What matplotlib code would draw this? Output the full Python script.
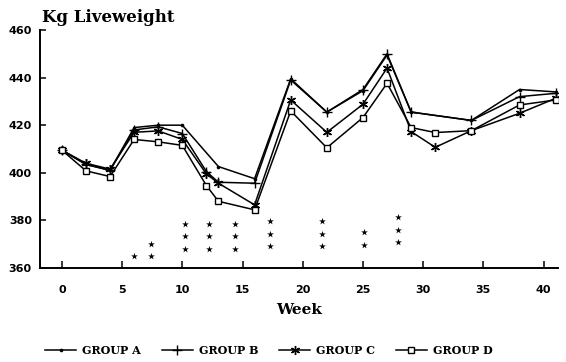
import numpy as np
import matplotlib.pyplot as plt

# liveweight (kg) per group, by week of trial
weeks_a = [0, 2, 4, 6, 8, 10, 13, 16, 19, 22, 25, 27, 29, 34, 38, 41]
group_a = [409.5, 403.5, 401, 419, 420, 420, 402.6, 397.5, 439.5, 425.5, 434.5, 449.5, 425.5, 422, 435, 434]

weeks_b = [0, 2, 4, 6, 8, 10, 12, 13, 16, 19, 22, 25, 27, 29, 34, 38, 41]
group_b = [409.5, 403.5, 401, 418, 419.3, 416.5, 400.5, 396, 395.6, 439, 425.5, 435, 450, 425.5, 422, 432, 433.4]

weeks_cd = [0, 2, 4, 6, 8, 10, 12, 13, 16, 19, 22, 25, 27, 29, 31, 34, 38, 41]
group_c = [409.5, 404, 401.5, 417, 417.6, 414, 399.5, 395.6, 386.5, 430.6, 417, 428.8, 444, 417.3, 410.7, 417.7, 425, 431.3]
group_d = [409.5, 400.8, 398.4, 414, 413, 411.5, 394.6, 388, 384.4, 426, 410.5, 423.2, 437.6, 419, 416.9, 417.7, 428.5, 430.6]

# significance asterisks: week, number of stars, lowest star
sig_weeks = [6.0, 7.4, 10.2, 12.2, 14.4, 17.3, 21.6, 25.1, 27.9]
sig_count = [1, 2, 3, 3, 3, 3, 3, 2, 3]
sig_base = [365, 365, 368, 368, 368, 369.2, 369.2, 369.7, 370.8]

title_font = dict(family='DejaVu Serif', weight='bold')

fig = plt.figure(figsize=(5.66, 3.62), dpi=100)
ax = fig.add_axes([0.071, 0.26, 0.915, 0.657])

ax.plot(weeks_a, group_a, color='black', lw=1.1, marker='o', ms=1.6, label='GROUP A')
ax.plot(weeks_b, group_b, color='black', lw=1.1, marker='+', ms=6.5, mew=1.0, label='GROUP B')
ax.plot(weeks_cd, group_c, color='black', lw=1.1, marker=(6, 2, 0), ms=6.5, mew=1.0, label='GROUP C')
ax.plot(weeks_cd, group_d, color='black', lw=1.1, marker='s', ms=4.2, mfc='white', mew=1.0, label='GROUP D')

for w, n, b in zip(sig_weeks, sig_count, sig_base):
    ax.scatter([w] * n, b + 5.2 * np.arange(n), marker='*', s=26, color='black', lw=0)

ax.set_xlim(-1.8, 41.2)
ax.set_ylim(360, 460)
ax.set_xticks(range(0, 41, 5))
ax.set_yticks(range(360, 461, 20))
ax.spines['top'].set_visible(False)
ax.spines['right'].set_visible(False)
ax.spines['left'].set_linewidth(1.4)
ax.spines['bottom'].set_linewidth(1.4)
ax.tick_params(axis='x', direction='in', length=5, width=1.1, pad=12, labelsize=8)
ax.tick_params(axis='y', direction='in', length=4, width=1.1, pad=6, labelsize=8)
for lab in ax.get_xticklabels() + ax.get_yticklabels():
    lab.set_fontweight('bold')

ax.set_xlabel('Week', fontsize=11, labelpad=6, **title_font)
ax.text(0.003, 1.015, 'Kg Liveweight', transform=ax.transAxes, fontsize=12,
        ha='left', va='bottom', **title_font)

fig.legend(loc='lower center', bbox_to_anchor=(0.475, -0.01), ncol=4, frameon=False,
           handlelength=2.8, columnspacing=1.9, handletextpad=0.5,
           prop=dict(family='DejaVu Serif', weight='bold', size=8))

fig.savefig('out.png', dpi=100)
